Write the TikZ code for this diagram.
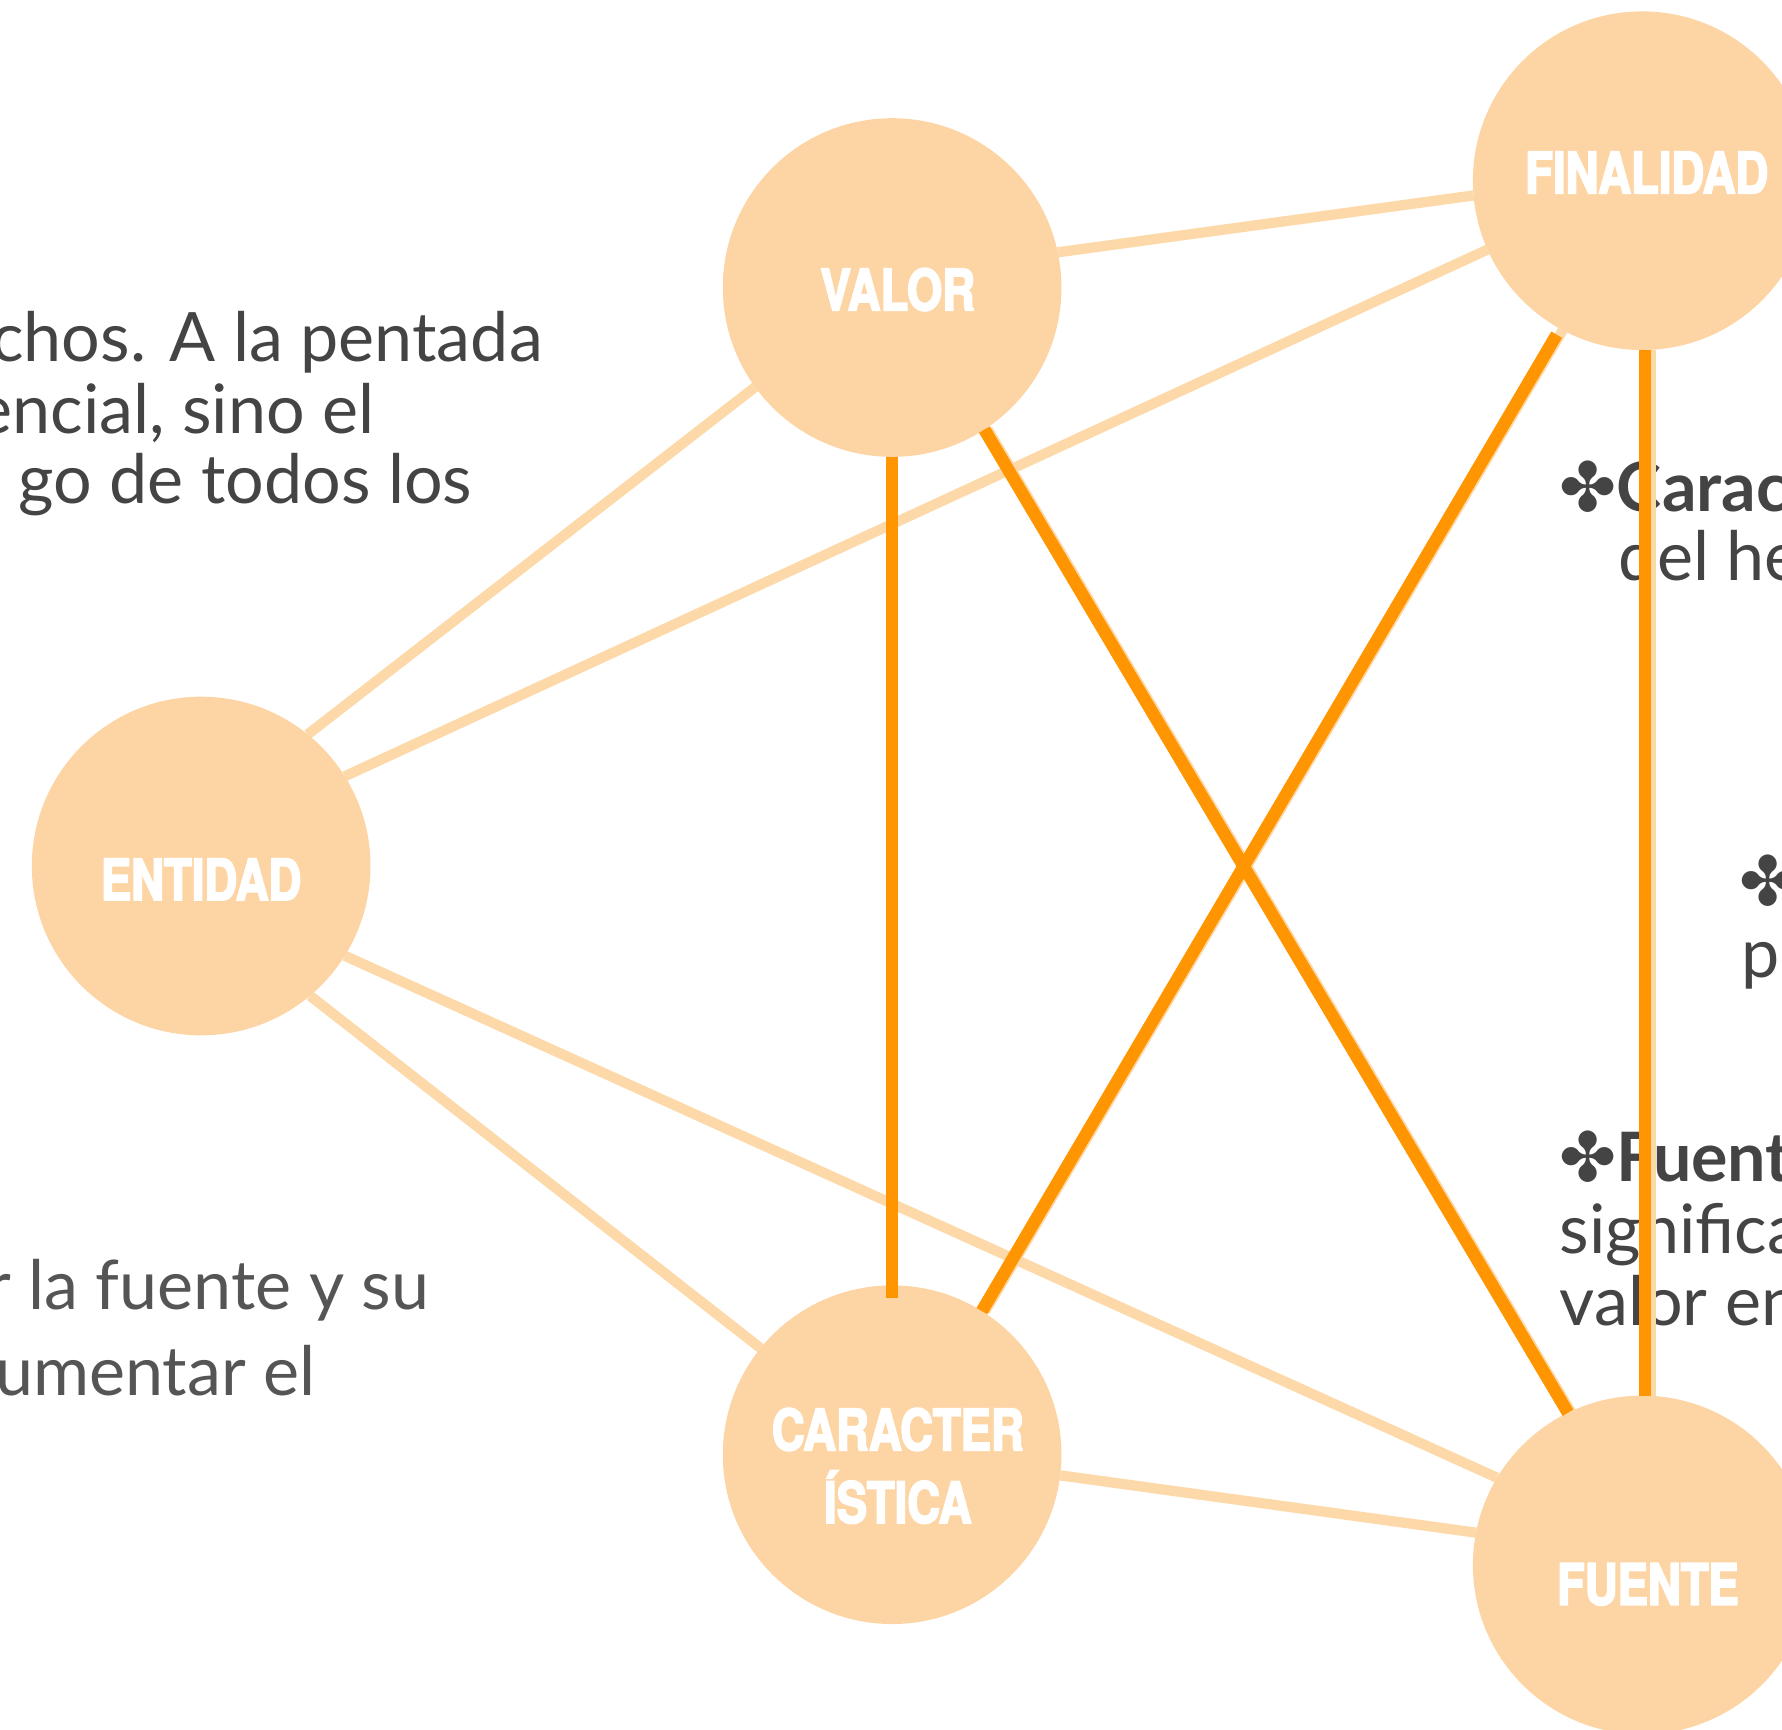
\documentclass[tikz,border=0pt]{standalone}
\usepackage{fontspec}
\setmainfont{Lato}
\newfontfamily\labfont[FakeStretch=0.8,FakeBold=3]{TeX Gyre Heros}
\newfontfamily\symfont{DejaVu Sans}
\definecolor{peach}{HTML}{FDD5A5}
\definecolor{peachline}{HTML}{FDD8A8}
\definecolor{orangeline}{HTML}{FF9500}
\definecolor{txtgray}{HTML}{444444}
\definecolor{txtgrayb}{HTML}{555555}
\begin{document}
\begin{tikzpicture}[x=0.5pt,y=-0.5pt,
  circ/.style={circle,fill=peach,minimum size=149pt,inner sep=0pt,outer sep=0pt},
  lab/.style={text=white,font=\labfont\bfseries\fontsize{25}{30}\selectfont,inner sep=0pt,anchor=base},
  body/.style={text=txtgray,font=\fontsize{30}{36}\selectfont,inner sep=0pt},
  soft/.style={draw=peachline,line width=4.5pt},
  strong/.style={draw=orangeline,line width=5.5pt}]
\useasboundingbox (0,0) rectangle (1568,1522);
\clip (0,0) rectangle (1568,1522);
% body texts
\node[body,anchor=base east] (t1) at (478,318) {chos. A la pentada};
\node[body,anchor=base east] (t2) at (330,381) {encial, sino el};
\node[body,anchor=base east] (t3) at (416,443) {go de todos los};
\node[body,text=txtgrayb,anchor=base east] (t4) at (378,1152) {r la fuente y su};
\node[body,text=txtgrayb,anchor=base east] (t5) at (278,1228) {umentar el};
\node[body,anchor=base west] (t6) at (1372,450) {{\symfont ✤}\textbf{Carac}};
\node[body,anchor=base west] (t7) at (1424,511) {del he};
\node[body,anchor=base west] (t8) at (1530,797) {\symfont ✤};
\node[body,anchor=base west] (t9) at (1532,860) {p};
\node[body,anchor=base west] (t10) at (1372,1040) {{\symfont ✤}\textbf{Fuent}};
\node[body,anchor=base west] (t11) at (1372,1103) {significa};
\node[body,anchor=base west] (t12) at (1372,1166) {valor en};
% circles
\node[circ] (ent) at (177,762) {};
\node[circ] (val) at (785,253) {};
\node[circ] (fin) at (1445,159) {};
\node[circ] (car) at (785,1280) {};
\node[circ] (fue) at (1445,1377) {};
% light connectors
\draw[soft] (ent.51) -- (val.216);
\draw[soft] (ent.32) -- (fin.204);
\draw[soft] (val.12) -- (fin.185);
\draw[soft] (ent.-50) -- (car.141);
\draw[soft] (ent.-32) -- (fue.149);
\draw[soft] (car.-7) -- (fue.169);
\draw[soft] (fin.-87.5) -- (fue.87.5);
\draw[soft] ([xshift=1.5pt]val.-57) -- ([xshift=1.5pt]fue.116);
\draw[soft] ([xshift=1.5pt]fin.241) -- ([xshift=1.5pt]car.58);
% strong connectors
\draw[strong] (val.-90) -- ([yshift=-5.5pt]car.90);
\draw[strong] (val.-57) -- (fue.116);
\draw[strong,shorten <=3pt] (fin.241) -- (car.58);
\draw[strong] (fin.-89) -- (fue.89);
% labels
\node[lab] (valT) at (790,273) {VALOR};
\node[lab] (finT) at (1449,170) {FINALIDAD};
\node[lab] (entT) at (177,792) {ENTIDAD};
\node[lab] (carT1) at (790,1276) {CARACTER};
\node[lab] (carT2) at (790,1340) {ÍSTICA};
\node[lab] (fueT) at (1450,1412) {FUENTE};
\end{tikzpicture}
\end{document}
